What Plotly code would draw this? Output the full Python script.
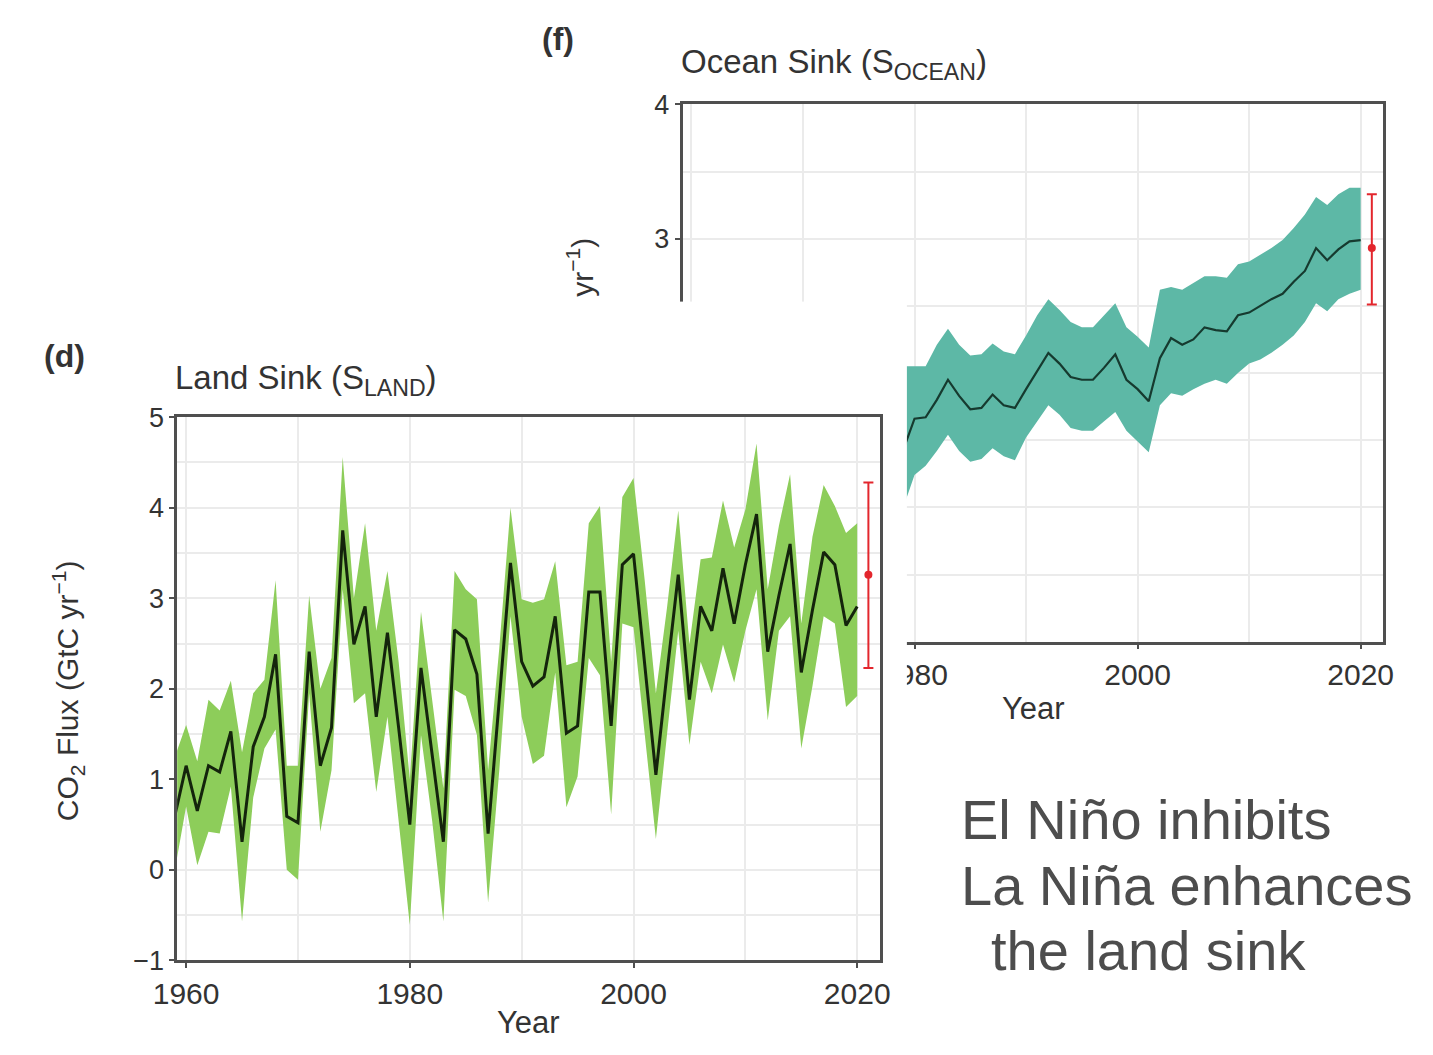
import plotly.graph_objects as go

W, H = 1433, 1055

# ---------------- data ----------------
years = list(range(1959, 2021))

land_mean = [0.60, 1.15, 0.65, 1.15, 1.08, 1.53, 0.31, 1.36, 1.69, 2.38,
             0.59, 0.52, 2.41, 1.15, 1.57, 3.75, 2.49, 2.91, 1.69, 2.62,
             1.57, 0.50, 2.23, 1.30, 0.31, 2.65, 2.55, 2.16, 0.40, 1.88,
             3.39, 2.30, 2.03, 2.13, 2.80, 1.51, 1.59, 3.07, 3.07, 1.59,
             3.37, 3.49, 2.26, 1.05, 2.18, 3.26, 1.88, 2.91, 2.64, 3.33,
             2.72, 3.37, 3.93, 2.41, 3.03, 3.60, 2.18, 2.87, 3.51, 3.37,
             2.70, 2.91]
land_upper = [1.25, 1.60, 1.20, 1.88, 1.76, 2.09, 1.30, 1.95, 2.10, 3.20,
              1.15, 1.15, 3.03, 2.00, 2.34, 4.56, 3.00, 3.83, 2.64, 3.30,
              2.30, 1.00, 2.85, 1.90, 0.90, 3.30, 3.10, 2.99, 1.10, 2.45,
              4.00, 2.99, 2.95, 2.99, 3.41, 2.26, 2.30, 3.83, 4.02, 2.30,
              4.12, 4.33, 3.20, 1.95, 2.90, 3.97, 2.49, 3.43, 3.45, 4.08,
              3.56, 3.98, 4.71, 3.10, 3.80, 4.37, 2.72, 3.68, 4.25, 4.02,
              3.72, 3.83]
land_lower = [0.00, 0.70, 0.05, 0.42, 0.40, 0.92, -0.57, 0.80, 1.34, 1.55,
              0.00, -0.11, 1.95, 0.42, 1.10, 3.10, 1.84, 1.95, 0.86, 1.69,
              0.54, -0.61, 1.49, 0.54, -0.57, 1.99, 1.92, 1.49, -0.36, 1.10,
              2.80, 1.69, 1.17, 1.26, 2.18, 0.69, 1.03, 2.34, 2.15, 0.61,
              2.72, 2.68, 1.50, 0.34, 1.50, 2.64, 1.38, 2.30, 1.95, 2.49,
              2.07, 2.64, 3.10, 1.65, 2.64, 2.80, 1.34, 2.03, 2.80, 2.72,
              1.80, 1.92]

ocean_mean = [1.02, 1.04, 1.00, 1.05, 1.10, 1.17, 1.13, 1.10, 1.15, 1.18,
              1.22, 1.25, 1.22, 1.30, 1.33, 1.29, 1.37, 1.36, 1.31, 1.38,
              1.43, 1.66, 1.67, 1.80, 1.95, 1.83, 1.73, 1.74, 1.84, 1.76,
              1.74, 1.88, 2.02, 2.15, 2.07, 1.97, 1.95, 1.95, 2.04, 2.14,
              1.95, 1.88, 1.79, 2.11, 2.26, 2.21, 2.25, 2.34, 2.32, 2.31,
              2.43, 2.45, 2.50, 2.55, 2.59, 2.68, 2.76, 2.93, 2.84, 2.92,
              2.98, 2.99]
ocean_upper = [1.47, 1.49, 1.45, 1.50, 1.55, 1.62, 1.58, 1.55, 1.60, 1.63,
               1.67, 1.70, 1.67, 1.75, 1.78, 1.74, 1.82, 1.81, 1.76, 1.90,
               2.05, 2.05, 2.05, 2.21, 2.33, 2.21, 2.13, 2.14, 2.22, 2.16,
               2.14, 2.28, 2.43, 2.55, 2.47, 2.38, 2.34, 2.34, 2.43, 2.52,
               2.34, 2.27, 2.19, 2.62, 2.64, 2.62, 2.67, 2.72, 2.72, 2.71,
               2.81, 2.83, 2.88, 2.93, 2.99, 3.08, 3.18, 3.31, 3.25, 3.33,
               3.38, 3.38]
ocean_lower = [0.57, 0.59, 0.55, 0.60, 0.65, 0.72, 0.68, 0.65, 0.70, 0.73,
               0.77, 0.80, 0.77, 0.85, 0.88, 0.84, 0.92, 0.91, 0.86, 0.95,
               1.00, 1.24, 1.31, 1.42, 1.54, 1.42, 1.34, 1.36, 1.44, 1.38,
               1.35, 1.52, 1.64, 1.76, 1.69, 1.59, 1.57, 1.57, 1.64, 1.71,
               1.57, 1.49, 1.41, 1.76, 1.85, 1.83, 1.88, 1.92, 1.95, 1.92,
               2.00, 2.07, 2.10, 2.15, 2.21, 2.28, 2.38, 2.52, 2.46, 2.55,
               2.59, 2.62]

est_year = [2021]
land_est = [3.26]
land_est_hi = [4.28]
land_est_lo = [2.23]
ocean_est = [2.93]
ocean_est_hi = [3.33]
ocean_est_lo = [2.51]

x_ticks = [1960, 1980, 2000, 2020]
x_minor = [1970, 1990, 2010]
land_y_ticks = [-1, 0, 1, 2, 3, 4, 5]
land_y_minor = [-0.5, 0.5, 1.5, 2.5, 3.5, 4.5]
ocean_y_ticks = [0, 1, 2, 3, 4]
ocean_y_minor = [0.5, 1.5, 2.5, 3.5]

# ---------------- styling ----------------
FONT = "Liberation Sans, Arial, Helvetica, sans-serif"
TXT = "#333333"
LAND_FILL = "#8dcd5a"
LAND_LINE = "#14240c"
OCEAN_FILL = "#5db8a6"
OCEAN_LINE = "#163a2f"
RED = "#e3262d"
GRID = "#ebebeb"
FRAME = "#4f4f4f"


def px(x):
    return x / W


def py(y):
    return 1 - y / H


fig = go.Figure()

# --- ocean panel (drawn first, underneath) ---
fig.add_trace(go.Scatter(x=years, y=ocean_lower, mode="lines", line=dict(width=0),
                         hoverinfo="skip", showlegend=False, xaxis="x", yaxis="y"))
fig.add_trace(go.Scatter(x=years, y=ocean_upper, mode="lines", line=dict(width=0),
                         fill="tonexty", fillcolor=OCEAN_FILL,
                         hoverinfo="skip", showlegend=False, xaxis="x", yaxis="y"))
fig.add_trace(go.Scatter(x=years, y=ocean_mean, mode="lines",
                         line=dict(color=OCEAN_LINE, width=2.2),
                         showlegend=False, xaxis="x", yaxis="y"))
fig.add_trace(go.Scatter(
    x=est_year, y=ocean_est, mode="markers",
    marker=dict(color=RED, size=8),
    error_y=dict(type="data", symmetric=False,
                 array=[h - m for h, m in zip(ocean_est_hi, ocean_est)],
                 arrayminus=[m - l for l, m in zip(ocean_est_lo, ocean_est)],
                 color=RED, thickness=2, width=5),
    showlegend=False, xaxis="x", yaxis="y"))

# --- white cover (background of the overlapping land panel) ---
fig.add_trace(go.Scatter(x=[], y=[], xaxis="x2", yaxis="y2", showlegend=False,
                         hoverinfo="skip"))

# --- land panel (on top) ---
fig.add_trace(go.Scatter(x=years, y=land_lower, mode="lines", line=dict(width=0),
                         hoverinfo="skip", showlegend=False, xaxis="x3", yaxis="y3"))
fig.add_trace(go.Scatter(x=years, y=land_upper, mode="lines", line=dict(width=0),
                         fill="tonexty", fillcolor=LAND_FILL,
                         hoverinfo="skip", showlegend=False, xaxis="x3", yaxis="y3"))
fig.add_trace(go.Scatter(x=years, y=land_mean, mode="lines",
                         line=dict(color=LAND_LINE, width=3),
                         showlegend=False, xaxis="x3", yaxis="y3"))
fig.add_trace(go.Scatter(
    x=est_year, y=land_est, mode="markers",
    marker=dict(color=RED, size=8),
    error_y=dict(type="data", symmetric=False,
                 array=[h - m for h, m in zip(land_est_hi, land_est)],
                 arrayminus=[m - l for l, m in zip(land_est_lo, land_est)],
                 color=RED, thickness=2, width=5),
    showlegend=False, xaxis="x3", yaxis="y3"))


def xaxis_style(domain, anchor):
    return dict(domain=domain, anchor=anchor, range=[1959.2, 2022.0],
                tickmode="array", tickvals=x_ticks,
                ticks="outside", ticklen=5, tickwidth=1.5, tickcolor=FRAME,
                tickfont=dict(family=FONT, size=30, color=TXT),
                showgrid=True, gridcolor=GRID, gridwidth=1.5,
                minor=dict(tickvals=x_minor, showgrid=True,
                           gridcolor=GRID, gridwidth=1.5, ticks=""),
                showline=True, linecolor=FRAME, linewidth=2.5, mirror=True,
                zeroline=False, fixedrange=True)


def yaxis_style(domain, anchor, rng, tickvals, minorvals):
    return dict(domain=domain, anchor=anchor, range=rng,
                tickmode="array", tickvals=tickvals,
                ticks="outside", ticklen=5, tickwidth=1.5, tickcolor=FRAME,
                tickfont=dict(family=FONT, size=27, color=TXT),
                showgrid=True, gridcolor=GRID, gridwidth=1.5,
                minor=dict(tickvals=minorvals, showgrid=True,
                           gridcolor=GRID, gridwidth=1.5, ticks=""),
                showline=True, linecolor=FRAME, linewidth=2.5, mirror=True,
                zeroline=False, fixedrange=True)


NOTE = "#4d4d4d"
annotations = [
    dict(text="<b>(f)</b>", x=px(547), y=py(25), xanchor="center", yanchor="middle",
         font=dict(family=FONT, size=32, color=TXT)),
    dict(text="Ocean Sink (S<sub>OCEAN</sub>)", x=px(671), y=py(50), xanchor="left",
         yanchor="middle", font=dict(family=FONT, size=33, color=TXT)),
    dict(text="yr<sup>−1</sup>)", x=px(570), y=py(260), xanchor="center",
         yanchor="middle", textangle=-90, font=dict(family=FONT, size=30, color=TXT)),
    dict(text="Year", x=px(1035), y=py(714), xanchor="center", yanchor="middle",
         font=dict(family=FONT, size=31, color=TXT)),
    dict(text="<b>(d)</b>", x=px(42), y=py(351), xanchor="center", yanchor="middle",
         font=dict(family=FONT, size=32, color=TXT)),
    dict(text="Land Sink (S<sub>LAND</sub>)", x=px(153), y=py(376), xanchor="left",
         yanchor="middle", font=dict(family=FONT, size=33, color=TXT)),
    dict(text="CO<sub>2</sub> Flux (GtC yr<sup>−1</sup>)", x=px(45), y=py(695),
         xanchor="center", yanchor="middle", textangle=-90,
         font=dict(family=FONT, size=30, color=TXT)),
    dict(text="Year", x=px(517), y=py(1037), xanchor="center", yanchor="middle",
         font=dict(family=FONT, size=31, color=TXT)),
    dict(text="El Niño inhibits", x=px(958), y=py(828), xanchor="left", yanchor="middle",
         font=dict(family=FONT, size=56, color=NOTE)),
    dict(text="La Niña enhances", x=px(958), y=py(896), xanchor="left", yanchor="middle",
         font=dict(family=FONT, size=56, color=NOTE)),
    dict(text="the land sink", x=px(989), y=py(963), xanchor="left", yanchor="middle",
         font=dict(family=FONT, size=56, color=NOTE)),
]
for a in annotations:
    a.update(xref="paper", yref="paper", showarrow=False)

fig.update_layout(
    width=W, height=H,
    margin=dict(l=0, r=0, t=0, b=0),
    paper_bgcolor="white", plot_bgcolor="white",
    showlegend=False,
    font=dict(family=FONT, color=TXT),
    xaxis=xaxis_style([px(675), px(1393)], "y"),
    yaxis=yaxis_style([py(645), py(92)], "x", [0, 4], ocean_y_ticks, ocean_y_minor),
    xaxis2=dict(domain=[0, px(905)], anchor="y2", visible=False, showgrid=False,
                zeroline=False, range=[0, 1], fixedrange=True),
    yaxis2=dict(domain=[0, py(295)], anchor="x2", visible=False, showgrid=False,
                zeroline=False, range=[0, 1], fixedrange=True),
    xaxis3=xaxis_style([px(157), px(877)], "y3"),
    yaxis3=yaxis_style([py(973), py(414)], "x3", [-1, 5], land_y_ticks, land_y_minor),
    annotations=annotations,
)

fig.write_html("out.html", config={"displayModeBar": False})
